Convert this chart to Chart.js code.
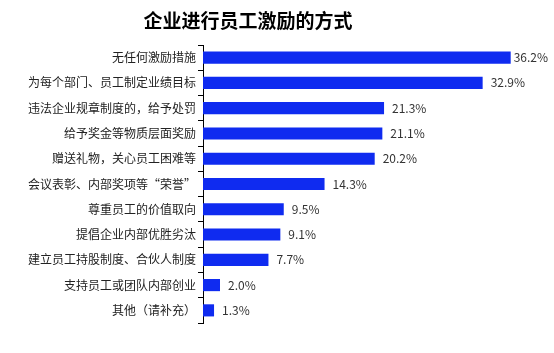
<!DOCTYPE html>
<html><head><meta charset="utf-8">
<script src="https://cdn.jsdelivr.net/npm/chart.js@4/dist/chart.umd.min.js"></script>
<style>html,body{margin:0;padding:0;background:#fff}#wrap{width:554px;height:353px}</style>
</head><body><div id="wrap"><canvas id="c" width="554" height="353"></canvas></div>
<script>
const titleText = "企业进行员工激励的方式";
const categories = ["无任何激励措施","为每个部门、员工制定业绩目标","违法企业规章制度的，给予处罚","给予奖金等物质层面奖励","赠送礼物，关心员工困难等","会议表彰、内部奖项等“荣誉”","尊重员工的价值取向","提倡企业内部优胜劣汰","建立员工持股制度、合伙人制度","支持员工或团队内部创业","其他（请补充）"];
const values = [36.2,32.9,21.3,21.1,20.2,14.3,9.5,9.1,7.7,2.0,1.3];
const valueLabels = ["36.2%","32.9%","21.3%","21.1%","20.2%","14.3%","9.5%","9.1%","7.7%","2.0%","1.3%"];

const FONT = '"Noto Sans CJK SC", "Microsoft YaHei", sans-serif';
const labelPlugin = {
  id: 'vlabels',
  afterDatasetsDraw(chart) {
    const ctx = chart.ctx;
    const meta = chart.getDatasetMeta(0);
    ctx.save();
    ctx.font = '12px ' + FONT;
    ctx.fillStyle = '#333';
    ctx.textBaseline = 'middle';
    ctx.textAlign = 'left';
    meta.data.forEach((bar, i) => {
      const off = i === 0 ? 3 : 8;
      ctx.fillText(valueLabels[i], bar.x + off, bar.y);
    });
    ctx.restore();
  }
};
const titlePlugin = {
  id: 'ttl',
  afterDraw(chart) {
    const ctx = chart.ctx;
    ctx.save();
    ctx.font = 'bold 19px ' + FONT;
    ctx.fillStyle = '#000';
    ctx.textAlign = 'center';
    ctx.textBaseline = 'middle';
    ctx.fillText(titleText, 248, 21);
    ctx.restore();
  }
};

new Chart(document.getElementById('c'), {
  type: 'bar',
  data: {
    labels: categories,
    datasets: [{
      data: values,
      backgroundColor: '#0F2BF0',
      barPercentage: 0.48,
      categoryPercentage: 1.0
    }]
  },
  options: {
    indexAxis: 'y',
    responsive: false,
    animation: false,
    layout: { padding: { left: 0, right: 11, top: 45, bottom: 30 } },
    plugins: { legend: { display: false }, tooltip: { enabled: false }, title: { display: false } },
    scales: {
      x: { display: false, min: 0, max: 40 },
      y: {
        afterFit(scale) { scale.width = 203; },
        border: { display: true, color: '#000', width: 1 },
        grid: { drawOnChartArea: false, offset: true, tickLength: 5, color: '#000' },
        ticks: { color: '#222', padding: 2, font: { size: 12, family: FONT } }
      }
    }
  },
  plugins: [labelPlugin, titlePlugin]
});
</script></body></html>
